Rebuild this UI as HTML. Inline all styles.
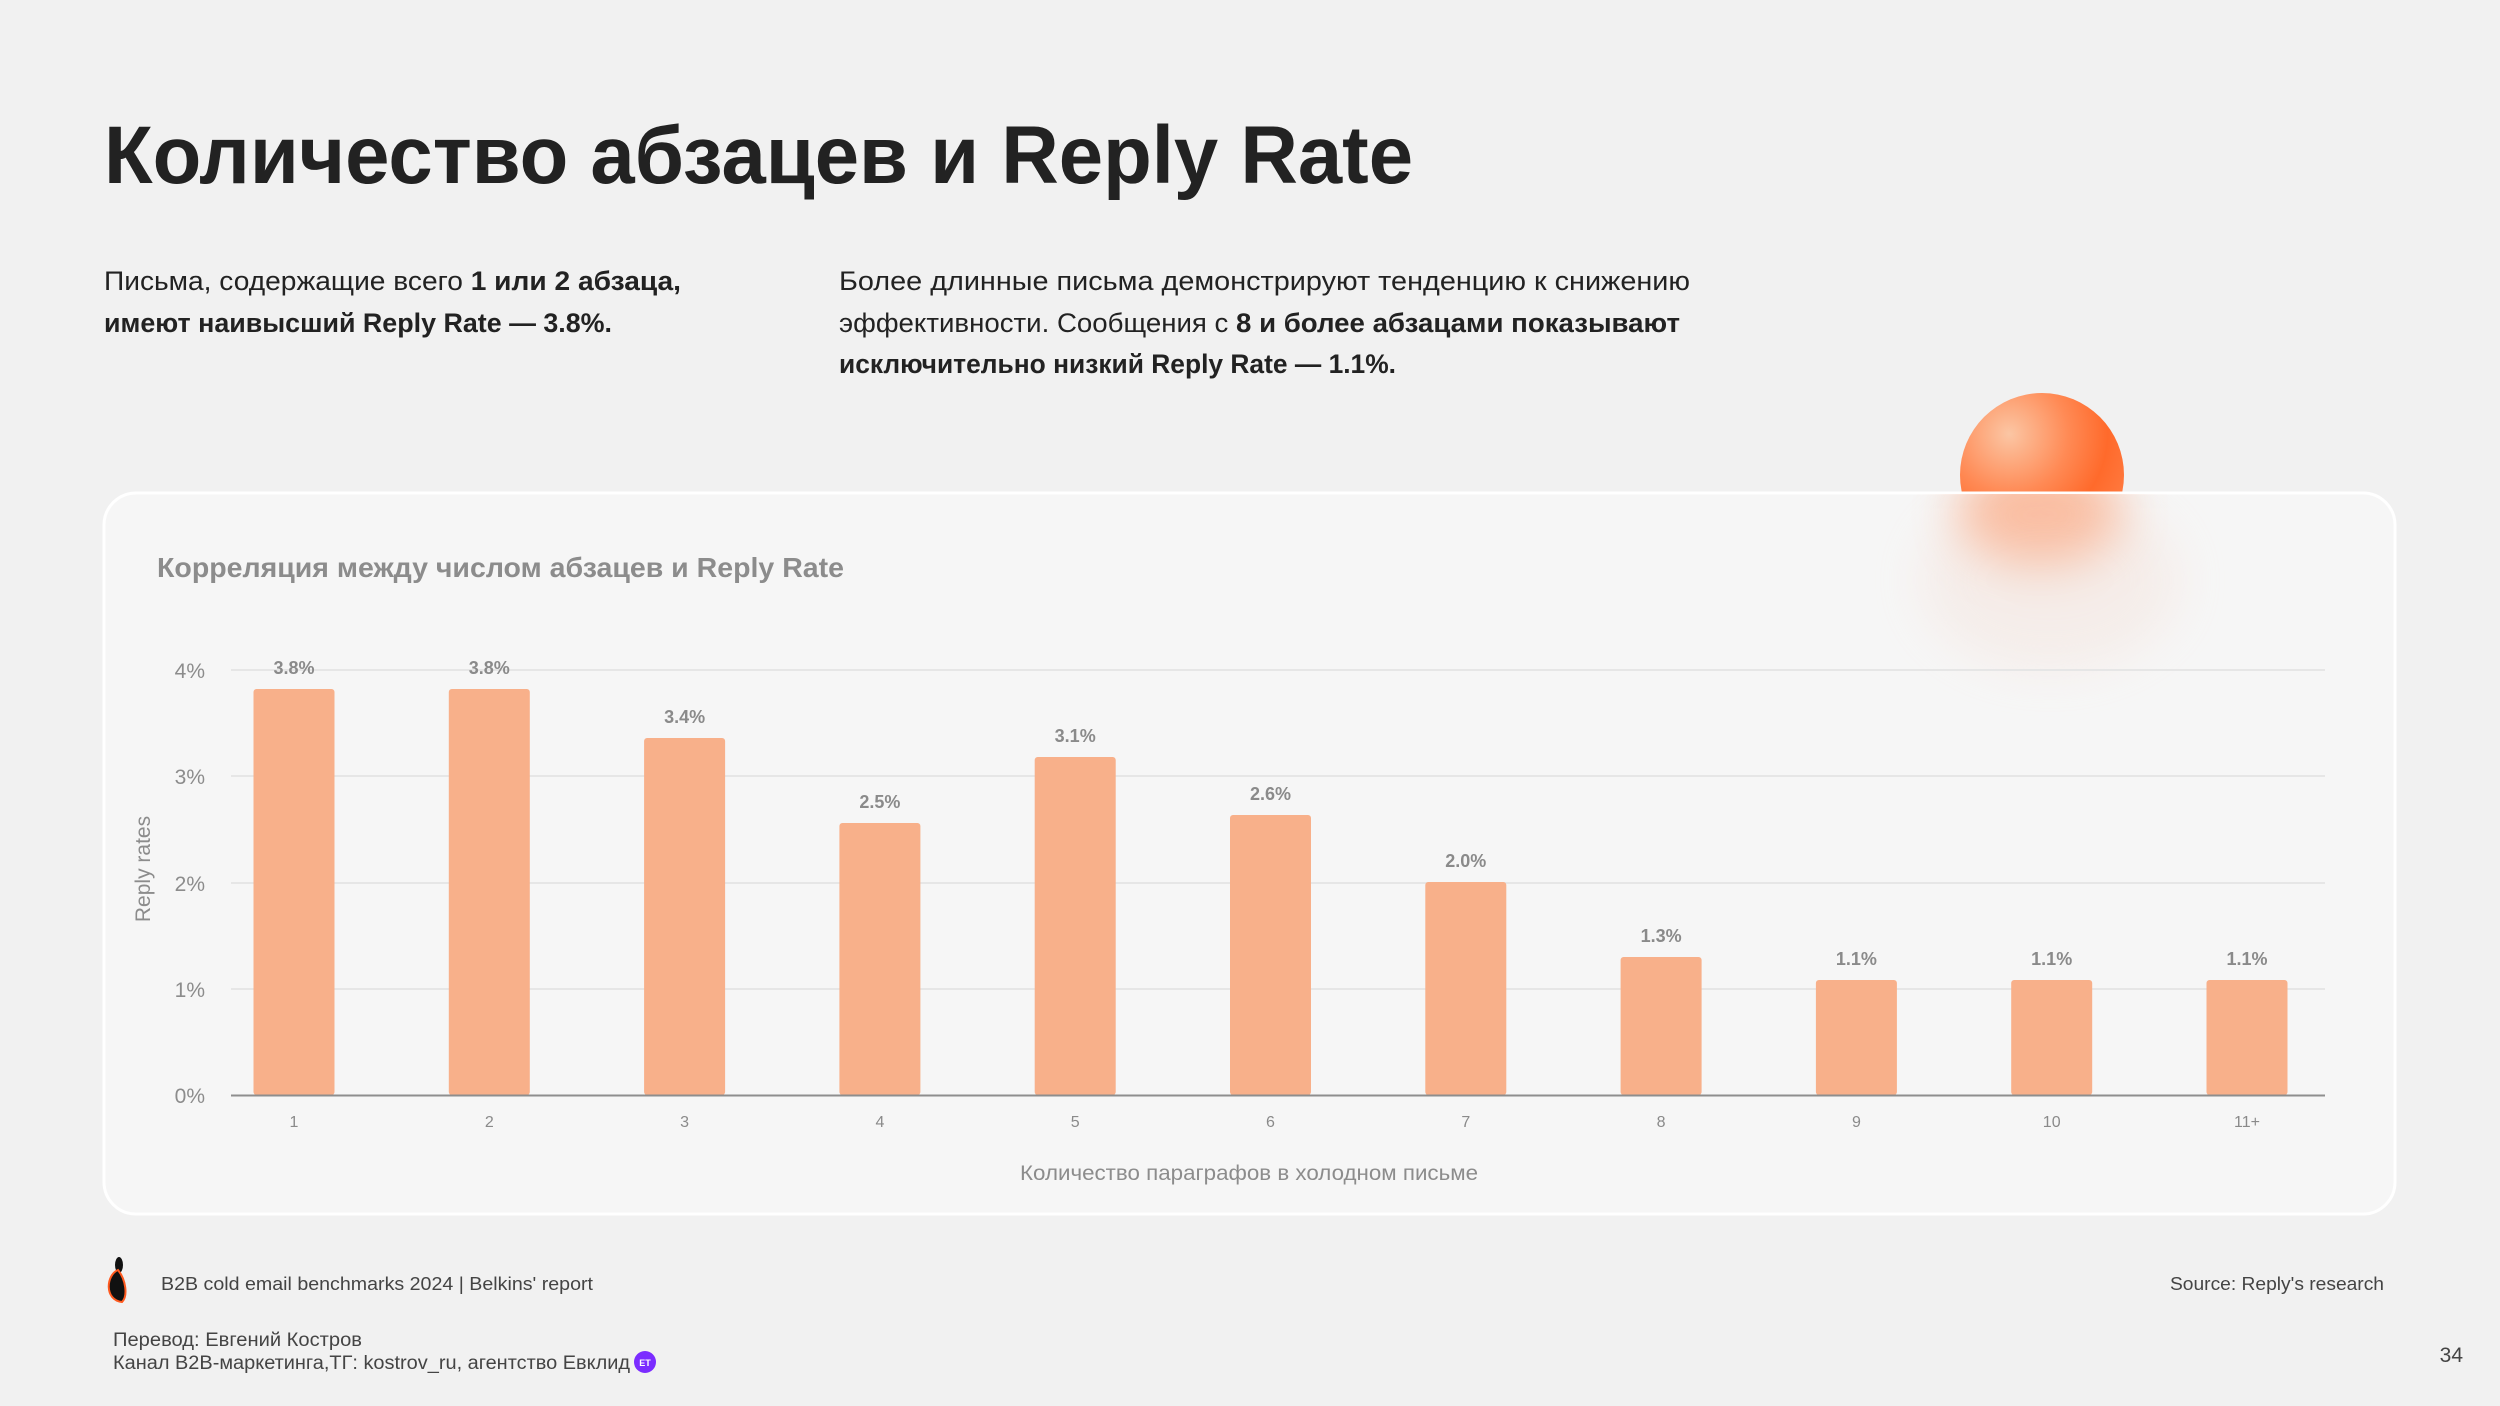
<!DOCTYPE html>
<html><head><meta charset="utf-8"><style>
html,body{margin:0;padding:0;background:#f1f1f1;}
svg{display:block;}
</style></head><body>
<svg width="2500" height="1406" viewBox="0 0 2500 1406" xmlns="http://www.w3.org/2000/svg" font-family="'Liberation Sans', sans-serif">
<defs>
<radialGradient id="sph" cx="0.3" cy="0.25" r="0.8">
<stop offset="0" stop-color="#fbc6a4"/><stop offset="0.45" stop-color="#ff8a55"/><stop offset="0.75" stop-color="#ff6a2b"/><stop offset="1" stop-color="#ff7a40"/>
</radialGradient>
<filter id="bl" x="-1" y="-1" width="3" height="3"><feGaussianBlur stdDeviation="24"/></filter>
<clipPath id="above"><rect x="0" y="0" width="2500" height="492"/></clipPath>
<clipPath id="below"><rect x="104" y="494" width="2291" height="720" rx="32"/></clipPath>
</defs>
<rect width="2500" height="1406" fill="#f1f1f1"/>
<text x="104" y="183" font-size="82" font-weight="bold" fill="#222" textLength="1309" lengthAdjust="spacingAndGlyphs">Количество абзацев и Reply Rate</text>
<g font-size="27" fill="#222">
<text x="104" y="290" textLength="577" lengthAdjust="spacingAndGlyphs">Письма, содержащие всего <tspan font-weight="bold">1 или 2 абзаца,</tspan></text>
<text x="104" y="332" font-weight="bold" textLength="508" lengthAdjust="spacingAndGlyphs">имеют наивысший Reply Rate — 3.8%.</text>
<text x="839" y="290" textLength="851" lengthAdjust="spacingAndGlyphs">Более длинные письма демонстрируют тенденцию к снижению</text>
<text x="839" y="332" textLength="841" lengthAdjust="spacingAndGlyphs">эффективности. Сообщения с <tspan font-weight="bold">8 и более абзацами показывают</tspan></text>
<text x="839" y="373" font-weight="bold" textLength="557" lengthAdjust="spacingAndGlyphs">исключительно низкий Reply Rate — 1.1%.</text>
</g>
<circle cx="2042" cy="475" r="82" fill="url(#sph)" clip-path="url(#above)"/>
<rect x="104" y="493" width="2291" height="721" rx="32" fill="#f6f6f6" stroke="#ffffff" stroke-width="3"/>
<g clip-path="url(#below)">
<ellipse cx="2040" cy="515" rx="80" ry="50" fill="#ff9a6a" opacity="0.7" filter="url(#bl)"/>
<ellipse cx="2050" cy="580" rx="130" ry="90" fill="#f3d8cc" opacity="0.3" filter="url(#bl)"/>
</g>
<text x="157" y="577" font-size="28" font-weight="bold" fill="#8c8c8c" textLength="687" lengthAdjust="spacingAndGlyphs">Корреляция между числом абзацев и Reply Rate</text>
<g stroke="#e6e6e6" stroke-width="2">
<line x1="231" y1="670" x2="2325" y2="670"/><line x1="231" y1="776" x2="2325" y2="776"/>
<line x1="231" y1="883" x2="2325" y2="883"/><line x1="231" y1="989" x2="2325" y2="989"/>
</g>
<g font-size="21" fill="#8c8c8c" text-anchor="end">
<text x="205" y="678">4%</text><text x="205" y="784">3%</text><text x="205" y="891">2%</text><text x="205" y="997">1%</text><text x="205" y="1103">0%</text>
</g>
<text transform="translate(150,869) rotate(-90)" font-size="21" fill="#8c8c8c" text-anchor="middle">Reply rates</text>
<g fill="#f8b08a">
<rect x="253.5" y="689" width="81" height="406" rx="3"/>
<rect x="448.8" y="689" width="81" height="406" rx="3"/>
<rect x="644.1" y="738" width="81" height="357" rx="3"/>
<rect x="839.4" y="823" width="81" height="272" rx="3"/>
<rect x="1034.7" y="757" width="81" height="338" rx="3"/>
<rect x="1230" y="815" width="81" height="280" rx="3"/>
<rect x="1425.3" y="882" width="81" height="213" rx="3"/>
<rect x="1620.6" y="957" width="81" height="138" rx="3"/>
<rect x="1815.9" y="980" width="81" height="115" rx="3"/>
<rect x="2011.2" y="980" width="81" height="115" rx="3"/>
<rect x="2206.5" y="980" width="81" height="115" rx="3"/>
</g>
<line x1="231" y1="1095.5" x2="2325" y2="1095.5" stroke="#8e8e8e" stroke-width="2"/>
<g font-size="18" font-weight="bold" fill="#8a8a8a" text-anchor="middle">
<text x="294" y="674">3.8%</text><text x="489.3" y="674">3.8%</text><text x="684.6" y="723">3.4%</text>
<text x="879.9" y="808">2.5%</text><text x="1075.2" y="742">3.1%</text><text x="1270.5" y="800">2.6%</text>
<text x="1465.8" y="867">2.0%</text><text x="1661.1" y="942">1.3%</text><text x="1856.4" y="965">1.1%</text>
<text x="2051.7" y="965">1.1%</text><text x="2247" y="965">1.1%</text>
</g>
<g font-size="16" fill="#8a8a8a" text-anchor="middle">
<text x="294" y="1127">1</text><text x="489.3" y="1127">2</text><text x="684.6" y="1127">3</text>
<text x="879.9" y="1127">4</text><text x="1075.2" y="1127">5</text><text x="1270.5" y="1127">6</text>
<text x="1465.8" y="1127">7</text><text x="1661.1" y="1127">8</text><text x="1856.4" y="1127">9</text>
<text x="2051.7" y="1127">10</text><text x="2247" y="1127">11+</text>
</g>
<text x="1020" y="1180" font-size="21" fill="#8c8c8c" textLength="458" lengthAdjust="spacingAndGlyphs">Количество параграфов в холодном письме</text>
<ellipse cx="119" cy="1265" rx="4" ry="8" fill="#111"/>
<path d="M118 1270 C106 1275 104 1300 122 1302 C128 1296 126 1280 118 1270 Z" fill="#111" stroke="#ff5a1f" stroke-width="2"/>
<text x="161" y="1290" font-size="18" fill="#444" textLength="432" lengthAdjust="spacingAndGlyphs">B2B cold email benchmarks 2024 | Belkins' report</text>
<text x="2170" y="1290" font-size="18" fill="#444" textLength="214" lengthAdjust="spacingAndGlyphs">Source: Reply's research</text>
<text x="113" y="1346" font-size="19" fill="#444" textLength="249" lengthAdjust="spacingAndGlyphs">Перевод: Евгений Костров</text>
<text x="113" y="1369" font-size="19" fill="#444" textLength="517" lengthAdjust="spacingAndGlyphs">Канал B2B-маркетинга,ТГ: kostrov_ru, агентство Евклид</text>
<circle cx="645" cy="1362" r="11" fill="#7b2cff"/>
<text x="645" y="1366" font-size="9" font-weight="bold" fill="#fff" text-anchor="middle">ЕТ</text>
<text x="2463" y="1362" font-size="21" fill="#444" text-anchor="end">34</text>
</svg>
</body></html>
